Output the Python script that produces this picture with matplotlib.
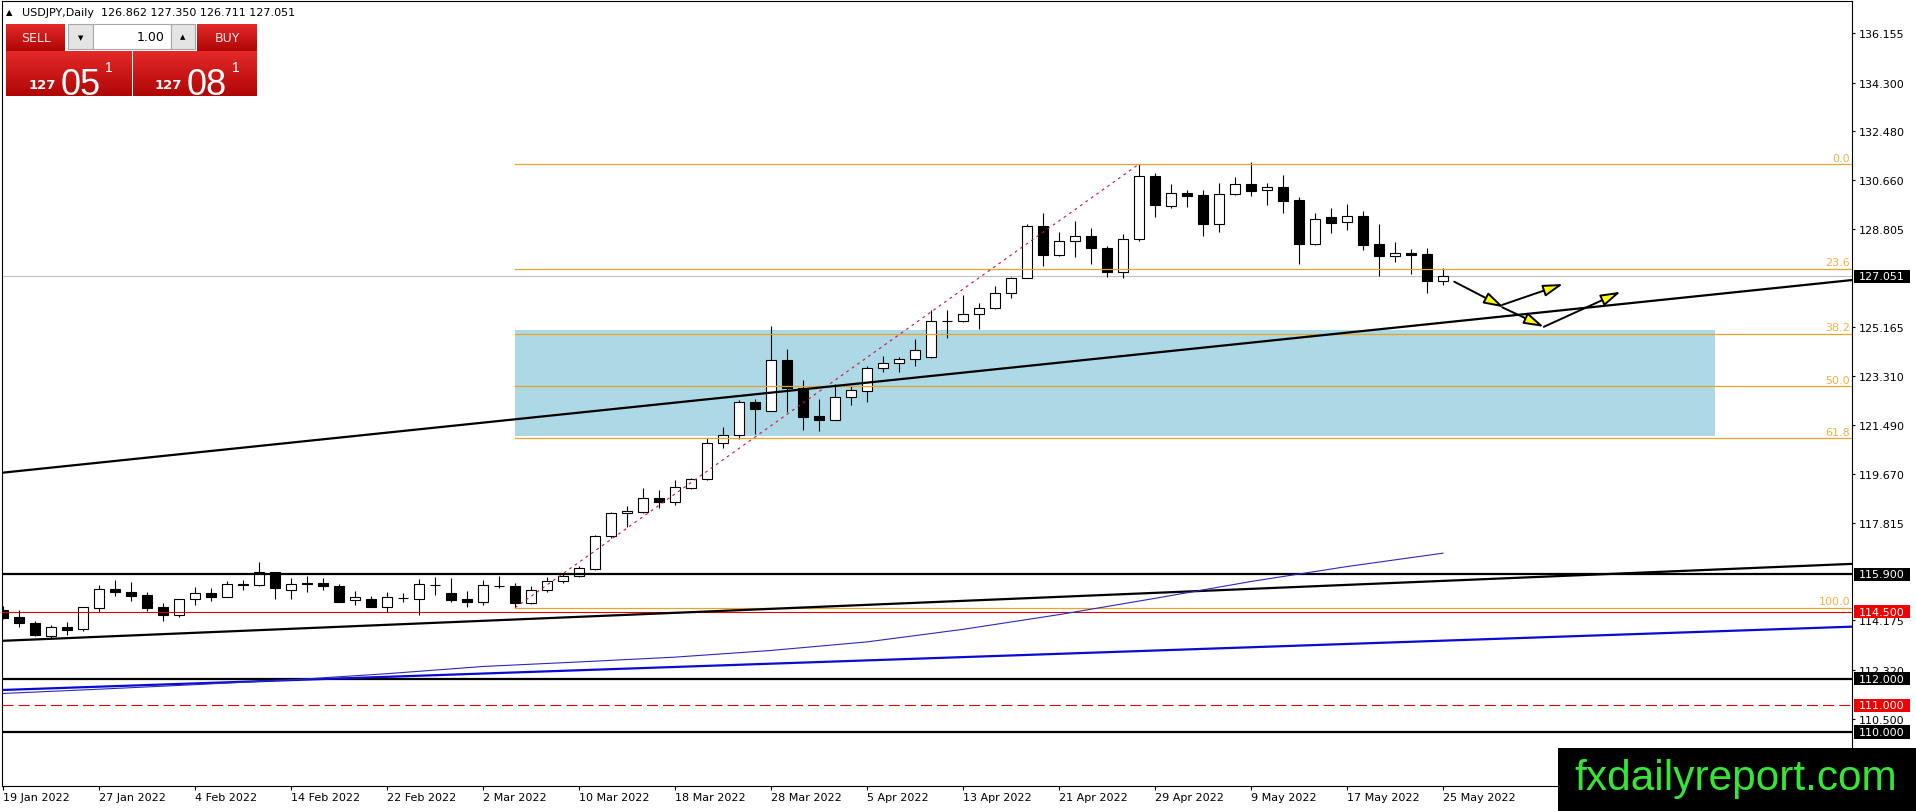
"""USDJPY daily chart, MT4 style, with fibo retracement and trade panel."""
import matplotlib
matplotlib.use("Agg")
import matplotlib.pyplot as plt
import numpy as np
from matplotlib.patches import Rectangle
from matplotlib.transforms import blended_transform_factory
from matplotlib.colors import LinearSegmentedColormap

W, H = 1916, 812

# ---- data --------------------------------------------------------------
date_bars = [0, 6, 12, 18, 24, 30, 36, 42, 48, 54, 60, 66, 72, 78, 84, 90]
date_labels = ["19 Jan 2022", "27 Jan 2022", "4 Feb 2022", "14 Feb 2022",
               "22 Feb 2022", "2 Mar 2022", "10 Mar 2022", "18 Mar 2022",
               "28 Mar 2022", "5 Apr 2022", "13 Apr 2022", "21 Apr 2022",
               "29 Apr 2022", "9 May 2022", "17 May 2022", "25 May 2022"]

opens = [114.56, 114.29, 114.07, 113.60, 113.92, 113.84, 114.65, 115.35, 115.25, 115.13,
         114.66, 114.39, 114.96, 115.20, 115.06, 115.51, 115.51, 115.98, 115.32, 115.56,
         115.57, 115.45, 114.93, 114.99, 114.69, 115.01, 114.99, 115.50, 115.20, 114.98,
         114.87, 115.47, 115.45, 114.81, 115.31, 115.65, 115.83, 116.10, 117.32, 118.18,
         118.23, 118.75, 118.59, 119.12, 119.45, 120.80, 121.10, 122.36, 122.02, 123.91,
         122.86, 121.81, 121.68, 122.52, 122.77, 123.61, 123.80, 123.95, 124.02, 125.37,
         125.37, 125.63, 125.85, 126.41, 126.98, 128.92, 127.86, 128.36, 128.55, 128.11,
         127.20, 128.43, 130.79, 129.69, 130.17, 130.08, 129.02, 130.12, 130.49, 130.27,
         130.38, 129.91, 128.27, 129.26, 129.07, 129.30, 128.25, 127.82, 127.91, 127.87,
         126.862]
highs = [114.70, 114.56, 114.16, 114.00, 114.13, 114.66, 115.50, 115.69, 115.62, 115.23,
         114.81, 114.96, 115.41, 115.38, 115.65, 115.70, 116.35, 116.00, 115.75, 115.82,
         115.76, 115.54, 115.29, 115.10, 115.25, 115.19, 115.72, 115.79, 115.75, 115.29,
         115.70, 115.82, 115.56, 115.47, 115.80, 115.91, 116.20, 117.37, 118.23, 118.47,
         119.13, 119.05, 119.43, 119.49, 121.00, 121.42, 122.42, 122.46, 125.19, 124.33,
         123.18, 122.46, 123.02, 122.93, 123.71, 124.06, 124.02, 124.69, 125.78, 125.78,
         126.35, 126.05, 126.69, 127.02, 129.00, 129.42, 128.70, 129.13, 128.86, 128.20,
         128.62, 131.25, 130.90, 130.50, 130.27, 130.27, 130.55, 130.75, 131.32, 130.54,
         130.84, 130.01, 129.42, 129.61, 129.76, 129.49, 129.01, 128.32, 128.07, 128.10,
         127.350]
lows = [114.23, 113.94, 113.60, 113.50, 113.64, 113.77, 114.50, 115.10, 114.91, 114.54,
        114.16, 114.31, 114.76, 114.91, 115.04, 115.31, 115.47, 114.98, 114.98, 115.25,
        115.32, 114.85, 114.76, 114.69, 114.50, 114.87, 114.39, 115.12, 114.85, 114.69,
        114.76, 115.37, 114.66, 114.80, 115.23, 115.58, 115.79, 116.07, 117.26, 117.68,
        118.19, 118.37, 118.49, 119.11, 119.42, 120.61, 120.96, 121.15, 122.01, 121.98,
        121.31, 121.27, 121.67, 122.25, 122.36, 123.48, 123.48, 123.68, 124.01, 124.75,
        125.33, 125.08, 125.84, 126.25, 126.97, 127.45, 127.80, 127.76, 127.51, 127.01,
        126.98, 128.36, 129.28, 129.62, 129.66, 128.57, 128.72, 130.08, 130.07, 129.73,
        129.41, 127.51, 128.23, 128.66, 128.79, 128.05, 127.07, 127.57, 127.14, 126.41,
        126.711]
closes = [114.28, 114.07, 113.64, 113.91, 113.83, 114.66, 115.35, 115.23, 115.10, 114.65,
          114.39, 114.96, 115.20, 115.06, 115.53, 115.52, 115.98, 115.40, 115.53, 115.55,
          115.45, 114.87, 115.04, 114.69, 115.04, 115.00, 115.53, 115.51, 114.94, 114.87,
          115.50, 115.46, 114.81, 115.31, 115.65, 115.84, 116.13, 117.32, 118.19, 118.27,
          118.75, 118.59, 119.17, 119.45, 120.80, 121.10, 122.33, 122.09, 123.91, 122.86,
          121.80, 121.68, 122.52, 122.80, 123.61, 123.80, 123.95, 124.28, 125.37, 125.38,
          125.63, 125.85, 126.41, 126.99, 128.92, 127.86, 128.36, 128.55, 128.10, 127.20,
          128.45, 130.79, 129.73, 130.16, 130.07, 129.02, 130.12, 130.49, 130.24, 130.38,
          129.88, 128.27, 129.18, 129.06, 129.30, 128.23, 127.82, 127.91, 127.86, 126.86,
          127.051]

# moving average (thin blue curve)
ma_bars = [0, 6, 12, 18, 24, 30, 36, 42, 48, 54, 60, 66, 72, 78, 84, 90]
ma_vals = [111.44, 111.60, 111.77, 111.95, 112.18, 112.45, 112.62, 112.80,
           113.05, 113.37, 113.84, 114.39, 115.00, 115.63, 116.19, 116.69]

# trend lines: (bar at left edge, bar at right edge) and prices
edge_bars = [-0.0625, 115.5625]
trend_upper = [119.70, 126.91]
trend_lower = [113.41, 116.29]
trend_blue = [111.57, 113.94]

# horizontal levels
black_levels = [115.900, 112.000, 110.000]
red_level = 114.500
red_dash_level = 111.000
bid = 127.051

# fibonacci retracement
fib_bars = [32, 71]
fib_low, fib_high = 114.65, 131.25
fib_pcts = [0.0, 23.6, 38.2, 50.0, 61.8, 100.0]

# light blue zone
zone_bars = [32, 107]
zone_prices = [121.07, 125.04]

# projected path arrows (start bar, start price, end bar, end price)
arrows = [(90.7, 126.85, 93.8, 125.89),
          (93.7, 125.98, 97.5, 126.76),
          (93.7, 125.89, 96.3, 125.16),
          (96.3, 125.16, 101.1, 126.47)]

price_ticks = [136.155, 134.300, 132.480, 130.660, 128.805, 125.165, 123.310,
               121.490, 119.670, 117.815, 114.175, 112.320, 110.500]

# ---- figure ---------------------------------------------------------------
fig = plt.figure(figsize=(W / 100, H / 100), dpi=100)
fig.patch.set_facecolor("white")
ax = fig.add_axes([2 / W, (H - 787) / H, 1850 / W, 785 / H])
ax.set_xlim(edge_bars)
ax.set_ylim(107.978, 137.352)
for s in ax.spines.values():
    s.set_linewidth(0.8)
    s.set_color("black")

idx = np.arange(len(opens))
o, h, l, c = map(np.asarray, (opens, highs, lows, closes))

# zone (background)
ax.add_patch(Rectangle((zone_bars[0], zone_prices[0]), zone_bars[1] - zone_bars[0],
                       zone_prices[1] - zone_prices[0], facecolor="#add8e6",
                       edgecolor="none", zorder=1))

# bid line
ax.axhline(bid, color="#c0c0c0", lw=0.8, zorder=2)

# candles
ax.vlines(idx, l, h, color="black", lw=0.8, zorder=3)
body_lo = np.minimum(o, c)
body_hi = np.maximum(o, c)
faces = np.where(c >= o, "white", "black")
ax.bar(idx, body_hi - body_lo, bottom=body_lo, width=0.6, color=faces,
       edgecolor="black", linewidth=0.8, zorder=4)

# horizontal levels
for lv in black_levels:
    ax.axhline(lv, color="black", lw=1.6, zorder=5)
ax.axhline(red_level, color="#e00000", lw=0.8, zorder=5)
ax.axhline(red_dash_level, color="#e00000", lw=0.8, ls=(0, (10, 4.5)), zorder=5)

# fibo
fib_span = fib_high - fib_low
trans = blended_transform_factory(ax.transAxes, ax.transData)
for pct in fib_pcts:
    lv = fib_high - pct / 100 * fib_span
    ax.plot([fib_bars[0], edge_bars[1]], [lv, lv], color="#e6a52a", lw=0.9, zorder=5)
    ax.text(1 - 2 / 1850, lv + 0.05, f"{pct:.1f}", transform=trans, ha="right",
            va="bottom", fontsize=8, color="#f0b048", zorder=6)
ax.plot(fib_bars, [fib_low, fib_high], color="#d01040", lw=0.8,
        ls=(0, (2.5, 3.5)), zorder=5)

# trend lines and MA
ax.plot(edge_bars, trend_upper, color="black", lw=1.6, zorder=6)
ax.plot(edge_bars, trend_lower, color="black", lw=1.6, zorder=6)
ax.plot(edge_bars, trend_blue, color="#0a0ad0", lw=1.6, zorder=6)
ax.plot(ma_bars, ma_vals, color="#2a2ab8", lw=0.8, zorder=6)

# arrows
for x0, y0, x1, y1 in arrows:
    ax.annotate("", xy=(x1, y1), xytext=(x0, y0),
                arrowprops=dict(arrowstyle="-|>,head_length=1.2,head_width=0.36",
                                fc="#ffff00", ec="black", lw=1.4,
                                shrinkA=0, shrinkB=0), zorder=7)

# axes ticks
ax.yaxis.tick_right()
ax.set_yticks(price_ticks)
ax.set_yticklabels([f"{t:.3f}" for t in price_ticks])
ax.tick_params(axis="y", direction="out", length=2.5, width=0.8, pad=2.2,
               labelsize=8, colors="black")
ax.set_xticks(date_bars)
ax.set_xticklabels(date_labels)
for lbl in ax.get_xticklabels():
    lbl.set_ha("left")
ax.tick_params(axis="x", direction="out", length=3, width=0.8, pad=1.5,
               labelsize=8, colors="black")


def price_box(price, color):
    hh = 0.245
    ax.add_patch(Rectangle((1 + 2 / 1850, price - hh), 56 / 1850, 2 * hh,
                           transform=trans, facecolor=color, edgecolor="none",
                           clip_on=False, zorder=8))
    ax.text(1 + 7 / 1850, price, f"{price:.3f}", transform=trans, ha="left",
            va="center", fontsize=8, color="white", clip_on=False, zorder=9)


price_box(bid, "black")
for lv in black_levels:
    price_box(lv, "black")
price_box(red_level, "#f00000")
price_box(red_dash_level, "#f00000")

# ---- header and trade panel ------------------------------------------------
def px(x, y):
    return x / W, 1 - y / H


fig.text(*px(6, 13), "\u25b2", fontsize=6, va="center", ha="left")
fig.text(*px(22, 13), "USDJPY,Daily  126.862 127.350 126.711 127.051",
         fontsize=8, va="center", ha="left")

red_cmap = LinearSegmentedColormap.from_list("btn", ["#b00606", "#e42a28"])


def red_box(x, y, w, hgt):
    bax = fig.add_axes([x / W, 1 - (y + hgt) / H, w / W, hgt / H])
    bax.imshow(np.linspace(1, 0, 32).reshape(-1, 1), aspect="auto", cmap=red_cmap,
               extent=(0, 1, 0, 1))
    bax.set_axis_off()
    return bax


def plain_box(x, y, w, hgt, fc, ec):
    fig.add_artist(Rectangle(px(x, y + hgt), w / W, hgt / H, transform=fig.transFigure,
                             facecolor=fc, edgecolor=ec, lw=0.8, zorder=10))


red_box(6, 25, 59, 27)
red_box(197, 25, 60, 27)
red_box(6, 52, 125, 45)
red_box(133, 52, 124, 45)
plain_box(68, 25, 25, 25, "#e4e4e4", "#a8a8a8")
plain_box(93, 25, 78, 25, "white", "#a8a8a8")
plain_box(171, 25, 24, 25, "#e4e4e4", "#a8a8a8")
fig.text(*px(80.5, 38), "\u25bc", fontsize=5, ha="center", va="center", zorder=11)
fig.text(*px(183, 37), "\u25b2", fontsize=5, ha="center", va="center", zorder=11)
fig.text(*px(165, 37.5), "1.00", fontsize=9, ha="right", va="center", zorder=11)
fig.text(*px(36, 39), "SELL", fontsize=9, ha="center", va="center",
         color="#fde4e4", zorder=11)
fig.text(*px(227, 39), "BUY", fontsize=9, ha="center", va="center",
         color="#fde4e4", zorder=11)
for xs, big in ((42, "05"), (168, "08")):
    fig.text(*px(xs, 89), "127", fontsize=9.5, fontweight="bold", ha="center",
             va="baseline", color="white", zorder=11)
for xb, big in ((81, "05"), (207, "08")):
    fig.text(*px(xb, 95), big, fontsize=26, family="Liberation Sans", ha="center",
             va="baseline", color="white", zorder=11)
for xs in (108.5, 235.5):
    fig.text(*px(xs, 71.5), "1", fontsize=10, family="Liberation Sans", ha="center",
             va="baseline", color="white", zorder=11)

# ---- watermark ---------------------------------------------------------------
fig.add_artist(Rectangle(px(1558, 812), (W - 1558) / W, 63 / H,
                         transform=fig.transFigure, facecolor="black",
                         edgecolor="none", zorder=12))
fig.text(*px(1736, 790), "fxdailyreport.com", family="Liberation Sans",
         fontsize=30.5, color="#36e636", ha="center", va="baseline", zorder=13)

fig.savefig("out.png", dpi=100)
